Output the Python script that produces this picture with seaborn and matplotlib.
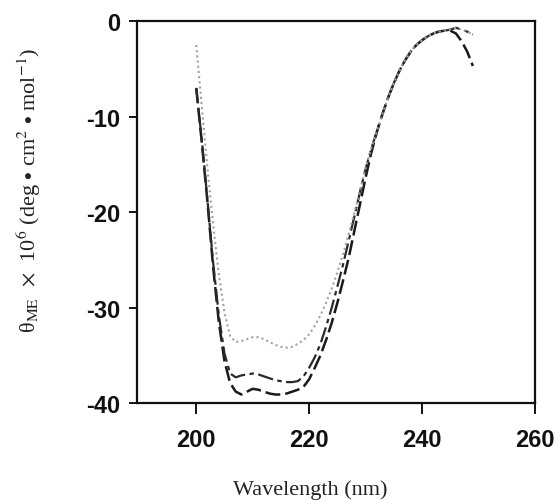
import numpy as np
import pandas as pd
import matplotlib
matplotlib.use("Agg")
import matplotlib.pyplot as plt
import seaborn as sns

# Dados (comprimento de onda em nm)
wavelength = list(range(200, 250))

curva_tracejada = [-7.0, -12.8, -19.0, -25.8, -31.5, -35.6, -37.9, -38.8, -39.1, -38.8,
                   -38.5, -38.6, -38.8, -39.0, -39.1, -39.1, -39.0, -38.8, -38.6, -38.3,
                   -37.5, -36.3, -35.0, -33.4, -31.6, -29.5, -27.2, -24.8, -22.0, -19.2,
                   -16.4, -13.8, -11.6, -9.7, -8.0, -6.5, -5.2, -4.1, -3.2, -2.5,
                   -2.0, -1.6, -1.3, -1.1, -1.0, -1.0, -1.3, -2.1, -3.2, -4.7]

curva_traco_ponto = [-7.0, -12.5, -18.8, -25.3, -30.8, -34.8, -36.9, -37.3, -37.1, -37.0,
                     -36.9, -37.0, -37.2, -37.4, -37.6, -37.7, -37.8, -37.8, -37.7, -37.2,
                     -36.3, -35.2, -33.8, -32.0, -30.0, -27.8, -25.5, -23.0, -20.5, -17.9,
                     -15.5, -13.4, -11.5, -9.7, -8.0, -6.5, -5.2, -4.1, -3.2, -2.5,
                     -2.0, -1.6, -1.3, -1.1, -1.0, -0.9, -0.7, -0.9, -1.1, -1.4]

curva_pontilhada = [-2.5, -9.0, -15.5, -21.3, -26.5, -30.5, -33.0, -33.6, -33.5, -33.3,
                    -33.1, -33.1, -33.3, -33.6, -33.9, -34.1, -34.2, -34.1, -33.8, -33.4,
                    -32.8, -31.9, -30.8, -29.5, -28.0, -26.3, -24.4, -22.3, -20.1, -17.7,
                    -15.4, -13.3, -11.5, -9.7, -8.0, -6.5, -5.2, -4.1, -3.2, -2.5,
                    -2.0, -1.6, -1.3, -1.1, -1.0, -0.9, -0.7, -0.9, -1.1, -1.4]

df = pd.DataFrame({
    "Wavelength": wavelength * 3,
    "Theta": curva_tracejada + curva_traco_ponto + curva_pontilhada,
    "Curva": ["tracejada"] * 50 + ["traco_ponto"] * 50 + ["pontilhada"] * 50,
})

sns.set_style("ticks")
plt.rcParams["font.family"] = ["Liberation Sans", "DejaVu Sans"]
plt.rcParams["mathtext.fontset"] = "stix"
plt.rcParams["axes.unicode_minus"] = False

fig = plt.figure(figsize=(5.59, 5.02), dpi=100)
ax = fig.add_axes([0.245, 0.195, 0.712, 0.761])

estilos = {
    "tracejada": dict(color="#1a1a1a", linestyle=(0, (6, 2)), linewidth=1.8),
    "traco_ponto": dict(color="#2a2a2a", linestyle=(0, (7, 2, 2, 2)), linewidth=1.6),
    "pontilhada": dict(color="#a0a0a0", linestyle=(0, (1, 1.5)), linewidth=1.5),
}
for nome, estilo in estilos.items():
    sub = df[df["Curva"] == nome]
    sns.lineplot(data=sub, x="Wavelength", y="Theta", ax=ax, **estilo)

ax.set_xlim(189.5, 260)
ax.set_ylim(-40, 0)
ax.set_xticks([200, 220, 240, 260])
ax.set_yticks([0, -10, -20, -30, -40])

for s in ax.spines.values():
    s.set_visible(True)
    s.set_color("#111111")
    s.set_linewidth(1.6)

ax.tick_params(axis="y", direction="out", length=6, width=1.4, pad=6,
               labelsize=17, colors="#111111")
ax.tick_params(axis="x", direction="out", length=8, width=1.4, pad=10,
               labelsize=17, colors="#111111")
for lab in ax.get_xticklabels() + ax.get_yticklabels():
    lab.set_fontweight("bold")

ax.set_xlabel("Wavelength (nm)", family="Liberation Serif", fontsize=16, color="#222222")
ax.xaxis.set_label_coords(0.435, -0.2)
ax.set_ylabel("θ$_{\\mathrm{ME}}$  $\\times$  10$^{6}$ (deg $\\bullet$ cm$^{2}$ $\\bullet$ mol$^{-1}$)",
              family="Liberation Serif", fontsize=16, color="#222222")
ax.yaxis.set_label_coords(-0.235, 0.56)

fig.savefig("out.png", dpi=100)
